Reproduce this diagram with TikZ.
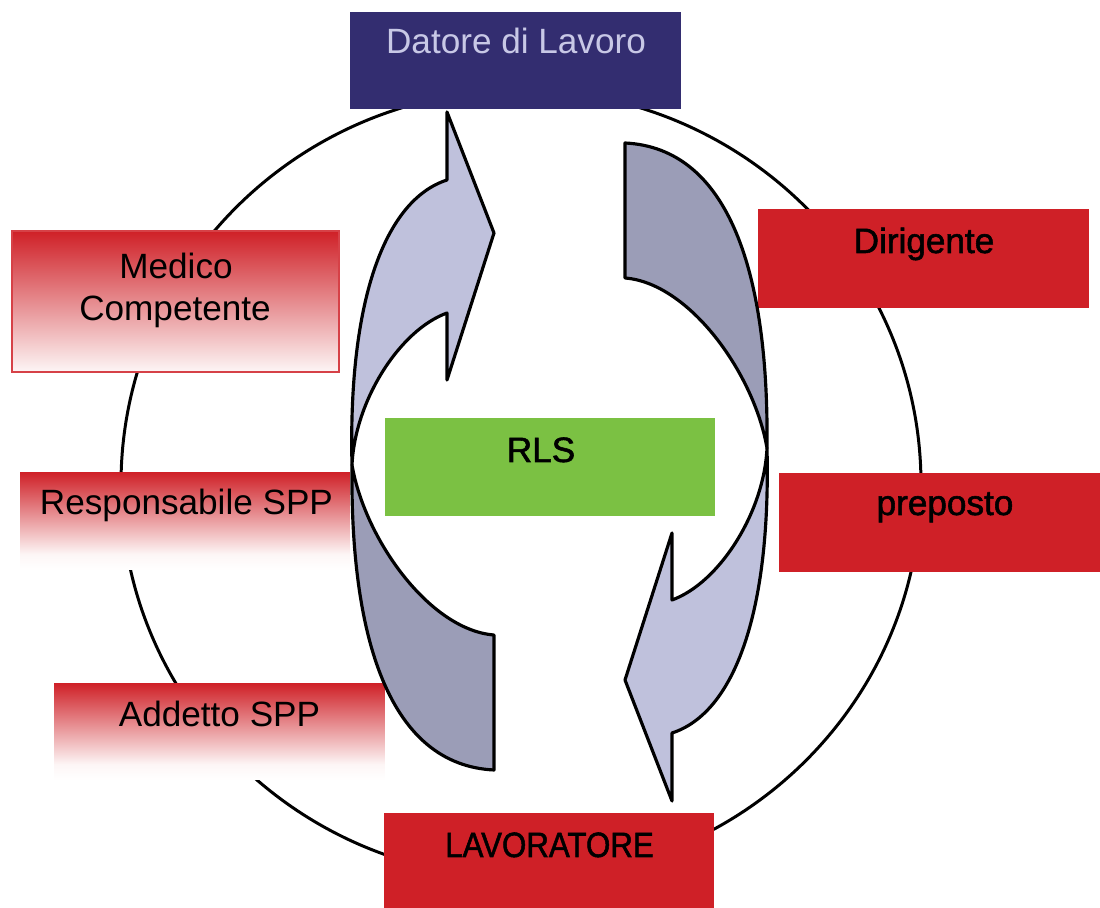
\documentclass[tikz,border=0pt]{standalone}
\usepackage{fontspec}
\setmainfont{Liberation Sans}
\definecolor{navy}{RGB}{51,45,112}
\definecolor{myred}{RGB}{207,32,39}
\definecolor{mygreen}{RGB}{123,193,67}
\definecolor{arrlight}{RGB}{191,193,220}
\definecolor{arrdark}{RGB}{155,157,183}
\definecolor{lavtext}{RGB}{200,200,230}
\definecolor{paleend}{RGB}{253,246,246}
\pgfdeclareverticalshading{fadeA}{100bp}{color(0bp)=(paleend); color(25bp)=(paleend); color(75bp)=(myred); color(100bp)=(myred)}
\pgfdeclareverticalshading{fadeB}{100bp}{color(0bp)=(white); color(25bp)=(white); color(33bp)=(paleend); color(75bp)=(myred); color(100bp)=(myred)}
\newcommand\cyclearrow{%
  \filldraw[arrshape, fill=arrlight] (447,112) -- (494,233) -- (447,380) -- (447,313)
     .. controls (400,330) and (355,400) .. (352,465)
     .. controls (348,300) and (385,200) .. (447,180) -- cycle;
  \filldraw[arrshape, fill=arrdark] (352,465)
     .. controls (350,640) and (390,765) .. (494,770) -- (494,635)
     .. controls (430,630) and (365,540) .. (352,465) -- cycle;
}
\tikzset{
  rbox/.style={rectangle, inner sep=0pt, outer sep=0pt, draw=none},
  txt/.style={inner sep=0pt, anchor=base, font=\fontsize{20}{24}\selectfont},
  semibold/.style={font=\fontsize{20}{24}\selectfont\addfontfeature{FakeBold=1.6}},
  arrshape/.style={draw=black, line width=1.8pt, line join=round},
  ring/.style={draw=black, line width=1.7pt}
}
\begin{document}
\begin{tikzpicture}[x=0.02cm, y=-0.02cm]
\useasboundingbox (0,0) rectangle (1100,908);
% outer ring
\draw[ring] (521,484) ellipse [x radius=400, y radius=394];
% boxes
\node[rbox, fill=navy, minimum width=6.62cm, minimum height=1.96cm] (datore) at (515.5,60.5) {};
\node[rbox, fill=myred, minimum width=6.62cm, minimum height=1.98cm] (dirigente) at (923.5,258.5) {};
\node[rbox, fill=myred, minimum width=6.42cm, minimum height=1.98cm] (preposto) at (939.5,522.5) {};
\node[rbox, fill=mygreen, minimum width=6.60cm, minimum height=1.96cm] (rls) at (550,467) {};
\node[rbox, fill=myred, minimum width=6.60cm, minimum height=1.90cm] (lavoratore) at (549,860.5) {};
\node[rbox, shading=fadeA, draw=myred!85!white, line width=1.6pt, minimum width=6.54cm, minimum height=2.82cm] (medico) at (175.5,301.5) {};
\node[rbox, shading=fadeB, minimum width=6.60cm, minimum height=1.96cm] (resp) at (185,521) {};
\node[rbox, shading=fadeB, minimum width=6.62cm, minimum height=1.94cm] (addetto) at (219.5,731.5) {};
% rotating arrows
\cyclearrow
\begin{scope}[rotate around={180:(559.5,456.5)}]
\cyclearrow
\end{scope}
% texts
\node[txt, text=lavtext] (tdatore) at (516,54) {Datore di Lavoro};
\node[txt, semibold] (tdirigente) at (924,253) {Dirigente};
\node[txt, semibold] (tpreposto) at (945,515) {preposto};
\node[txt, semibold] (trls) at (541,462) {RLS};
\node[txt, semibold] (tlavoratore) at (549.5,857) {\scalebox{0.89}[1]{LAVORATORE}};
\node[txt] (tmedico1) at (176,279) {Medico};
\node[txt] (tmedico2) at (175,321) {Competente};
\node[txt] (tresp) at (186.5,515) {Responsabile SPP};
\node[txt] (taddetto) at (219.5,727) {Addetto SPP};
\end{tikzpicture}
\end{document}
